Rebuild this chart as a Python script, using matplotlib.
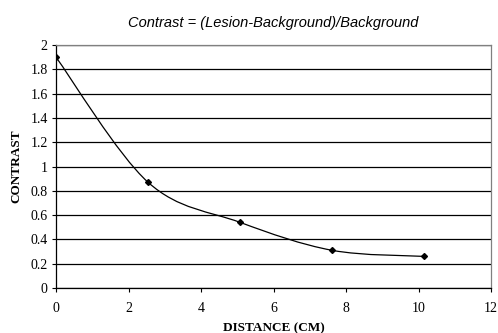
import matplotlib
matplotlib.use("Agg")
import matplotlib.pyplot as plt
from matplotlib.path import Path
from matplotlib.patches import PathPatch
import numpy as np

distance = [0.0, 2.54, 5.08, 7.62, 10.16]
contrast = [1.90, 0.87, 0.54, 0.31, 0.26]
xticks = [0, 2, 4, 6, 8, 10, 12]
yticks = [0, 0.2, 0.4, 0.6, 0.8, 1, 1.2, 1.4, 1.6, 1.8, 2]
ytick_labels = ["0", "0.2", "0.4", "0.6", "0.8", "1", "1.2", "1.4", "1.6", "1.8", "2"]

fig = plt.figure(figsize=(4.98, 3.33), dpi=100)
ax = fig.add_axes([56/498, 1-288/333, (491-56)/498, (288-45)/333])

# smoothed line (Excel-style Bezier through the data points)
pts = np.column_stack([distance, contrast])
n = len(pts)
verts = [tuple(pts[0])]
codes = [Path.MOVETO]
for i in range(n - 1):
    p0 = pts[i - 1] if i > 0 else pts[i]
    p1 = pts[i]
    p2 = pts[i + 1]
    p3 = pts[i + 2] if i + 2 < n else pts[i + 1]
    c1 = p1 + (p2 - p0) / 6.0
    c2 = p2 - (p3 - p1) / 6.0
    verts += [tuple(c1), tuple(c2), tuple(p2)]
    codes += [Path.CURVE4] * 3
ax.add_patch(PathPatch(Path(verts, codes), facecolor="none", edgecolor="black", lw=0.9, zorder=3))
ax.plot(distance, contrast, linestyle="none", marker="D", markersize=3, color="black", zorder=4)

ax.set_xlim(0, 12)
ax.set_ylim(0, 2)
ax.set_xticks(xticks)
ax.set_yticks(yticks)
ax.set_yticklabels(ytick_labels)
ax.yaxis.grid(True, color="black", lw=0.9)
ax.set_axisbelow(True)
for lab in ax.get_xticklabels() + ax.get_yticklabels():
    lab.set_family("Liberation Serif")
    lab.set_fontsize(10)
ax.tick_params(direction="out", length=3, width=0.8, colors="black", pad=3)
ax.tick_params(axis="x", pad=7)
ax.spines["top"].set_color("#808080")
ax.spines["right"].set_color("#808080")
ax.spines["left"].set_color("black")
ax.spines["bottom"].set_color("black")
for s in ax.spines.values():
    s.set_linewidth(0.9)

ax.set_title("Contrast = (Lesion-Background)/Background", fontfamily="Liberation Sans",
             fontstyle="italic", fontsize=10.5, pad=13)
ax.set_xlabel("DISTANCE (CM)", fontfamily="Liberation Serif", fontweight="bold", fontsize=9.5, labelpad=5)
ax.set_ylabel("CONTRAST", fontfamily="Liberation Serif", fontweight="bold", fontsize=9.5, labelpad=6)

fig.savefig("out.png", dpi=100)
